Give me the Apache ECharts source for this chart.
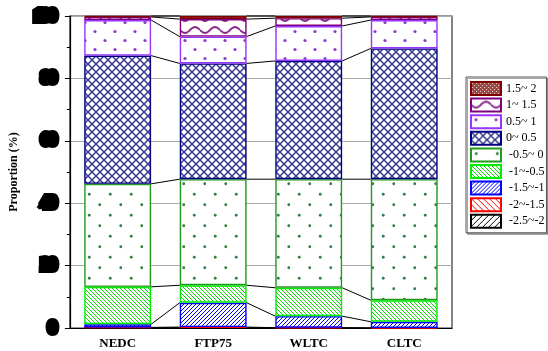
<!DOCTYPE html>
<html><head><meta charset="utf-8">
<script src="https://cdn.jsdelivr.net/npm/echarts@6/dist/echarts.min.js"></script>
<style>html,body{margin:0;padding:0;background:#fff}#c{width:548px;height:351px}</style>
</head><body><div id="c"></div>
<script>
const categories = ['NEDC', 'FTP75', 'WLTC', 'CLTC'];
const yTicks = [0, 20, 40, 60, 80, 100];
const seriesNames = [' -2.5~-2', ' -2~-1.5', ' -1.5~-1', ' -1~-0.5', ' -0.5~ 0', '0~ 0.5', '0.5~ 1', '1~ 1.5', '1.5~ 2'];
const vNeg25 = [0.1, 0.1, 0.05, 0.0];
const vNeg20 = [0.1, 0.2, 0.05, 0.0];
const vNeg15 = [1.0, 7.8, 3.7, 2.0];
const vNeg10 = [12.0, 5.6, 9.1, 6.9];
const vNeg05 = [33.0, 34.0, 34.8, 38.8];
const vPos00 = [41.1, 37.1, 37.9, 41.9];
const vPos05 = [11.4, 8.6, 11.2, 9.1];
const vPos10 = [1.0, 5.6, 2.5, 1.0];
const vPos15 = [0.3, 1.0, 0.7, 0.3];
const seriesValues = [vNeg25, vNeg20, vNeg15, vNeg10, vNeg05, vPos00, vPos05, vPos10, vPos15];

function pat(w, h, draw) {
  const c = document.createElement('canvas');
  c.width = w; c.height = h;
  const ctx = c.getContext('2d');
  ctx.fillStyle = '#fff'; ctx.fillRect(0, 0, w, h);
  draw(ctx, w, h);
  return { image: c, repeat: 'repeat' };
}
function hatch(s, color, lw, dir) {
  return pat(s, s, (ctx) => {
    ctx.strokeStyle = color; ctx.lineWidth = lw;
    ctx.beginPath();
    if (dir === '/') {
      ctx.moveTo(-1, s + 1); ctx.lineTo(s + 1, -1);
      ctx.moveTo(-1, 1); ctx.lineTo(1, -1);
      ctx.moveTo(s - 1, s + 1); ctx.lineTo(s + 1, s - 1);
    } else {
      ctx.moveTo(-1, -1); ctx.lineTo(s + 1, s + 1);
      ctx.moveTo(s - 1, -1); ctx.lineTo(s + 1, 1);
      ctx.moveTo(-1, s - 1); ctx.lineTo(1, s + 1);
    }
    ctx.stroke();
  });
}
function dots(w, h, color, r) {
  return pat(w, h, (ctx) => {
    ctx.fillStyle = color;
    [[w * 0.25, h * 0.25], [w * 0.75, h * 0.75]].forEach(p => {
      ctx.beginPath(); ctx.arc(p[0], p[1], r, 0, Math.PI * 2); ctx.fill();
    });
  });
}
const fills = [
  hatch(6, '#000', 1, '/'),
  hatch(6, '#ff0000', 1, '\\'),
  hatch(4, '#0000ff', 1, '/'),
  hatch(4, '#00dd00', 1, '\\'),
  dots(21, 21, '#2f7f3f', 1.4),
  pat(8, 8, (ctx) => {
    ctx.strokeStyle = '#3a3a92'; ctx.lineWidth = 1.5;
    ctx.beginPath();
    ctx.moveTo(0, 0); ctx.lineTo(8, 8); ctx.moveTo(8, 0); ctx.lineTo(0, 8);
    ctx.stroke();
    ctx.fillStyle = '#3a3a92';
    ctx.beginPath(); ctx.arc(4, 4, 1.1, 0, Math.PI * 2); ctx.fill();
  }),
  dots(20, 18, '#8a3ccc', 1.6),
  pat(20, 12, (ctx) => {
    ctx.strokeStyle = '#8b2a8b'; ctx.lineWidth = 2;
    ctx.beginPath();
    for (let x = 0; x <= 20; x++) {
      const y = 6 + 3 * Math.sin(2 * Math.PI * x / 20);
      if (x === 0) ctx.moveTo(x, y); else ctx.lineTo(x, y);
    }
    ctx.stroke();
  }),
  pat(4, 4, (ctx) => {
    ctx.fillStyle = '#9a4848'; ctx.fillRect(0, 0, 4, 4);
    ctx.fillStyle = '#e8d0d0'; ctx.fillRect(1, 1, 1, 1); ctx.fillRect(3, 3, 1, 1);
  })
];
const borders = ['#000000', '#ff0000', '#0000ff', '#00ee00', '#1f9a1f', '#000080', '#9933ff', '#800080', '#800000'];

const BW = 0.7;
const series = seriesNames.map((n, i) => ({
  name: n, type: 'bar', stack: 'all', barWidth: (BW * 100) + '%',
  data: seriesValues[i],
  itemStyle: { color: fills[i], borderColor: borders[i], borderWidth: 1.4 },
  emphasis: { disabled: true }
}));

const cum = categories.map((c, j) => {
  let s = 0; return seriesValues.map(arr => (s += arr[j]));
});
series.push({
  type: 'custom', name: 'connect', silent: true, z: 5,
  data: categories.slice(0, -1).map((c, i) => [i]),
  renderItem: function (params, api) {
    const i = api.value(0);
    const half = api.size([1, 0])[0] * BW / 2;
    const children = [];
    for (let k = 0; k < seriesValues.length; k++) {
      const p1 = api.coord([i, cum[i][k]]);
      const p2 = api.coord([i + 1, cum[i + 1][k]]);
      children.push({
        type: 'line',
        shape: { x1: p1[0] + half, y1: p1[1], x2: p2[0] - half, y2: p2[1] },
        style: { stroke: '#000', lineWidth: 1 }
      });
    }
    return { type: 'group', children };
  }
});

const chart = echarts.init(document.getElementById('c'), null, { renderer: 'canvas' });
chart.setOption({
  animation: false,
  backgroundColor: '#fff',
  grid: { left: 65, right: 96, top: 16, bottom: 23, show: true, borderColor: '#333', borderWidth: 1.2, backgroundColor: 'transparent' },
  legend: {
    data: seriesNames.slice().reverse(),
    orient: 'vertical', left: 466, top: 77,
    icon: 'rect',
    itemWidth: 30, itemHeight: 13, itemGap: 1.6,
    padding: [4, 2, 4, 4],
    backgroundColor: '#fff', borderColor: '#555', borderWidth: 1,
    shadowColor: 'rgba(0,0,0,0.35)', shadowOffsetX: 1.5, shadowOffsetY: 1.5,
    textStyle: { fontFamily: 'Liberation Serif', fontSize: 12, lineHeight: 13, color: '#000' },
    selectedMode: false
  },
  xAxis: [{
    type: 'category', data: categories,
    axisLine: { lineStyle: { color: '#000', width: 1.2 } },
    axisTick: { alignWithLabel: true, length: 5, lineStyle: { color: '#000' } },
    axisLabel: { fontFamily: 'Liberation Serif', fontWeight: 'bold', fontSize: 13, color: '#000', margin: 9 }
  }, {
    type: 'category', data: categories, position: 'bottom',
    axisLine: { show: false },
    axisTick: { length: 3, lineStyle: { color: '#000' } },
    axisLabel: { show: false }
  }],
  yAxis: {
    type: 'value', min: yTicks[0], max: yTicks[yTicks.length - 1], interval: 20,
    name: 'Proportion (%)', nameLocation: 'middle', nameGap: 48,
    nameTextStyle: { fontFamily: 'Liberation Serif', fontWeight: 'bold', fontSize: 12, color: '#000' },
    axisLine: { show: true, lineStyle: { color: '#000', width: 1.2 } },
    axisTick: { show: true, length: 5, lineStyle: { color: '#000' } },
    minorTick: { show: true, splitNumber: 2, length: 3, lineStyle: { color: '#000' } },
    splitLine: { show: true, lineStyle: { color: '#aaa', width: 1 } },
    axisLabel: {
      fontFamily: 'Liberation Serif', fontWeight: 'bold', fontSize: 14, color: '#000',
      textBorderColor: '#000', textBorderWidth: 8, margin: 14
    }
  },
  series
});
</script></body></html>
